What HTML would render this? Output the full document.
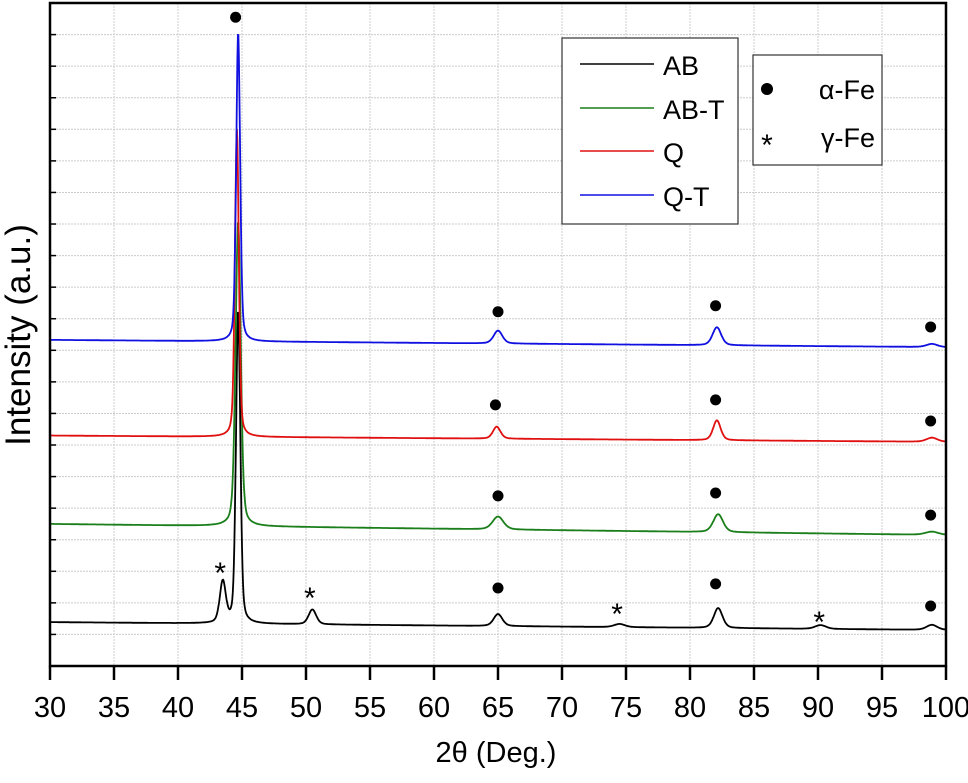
<!DOCTYPE html>
<html><head><meta charset="utf-8"><style>
body{margin:0;background:#fff;}
svg text{font-family:"Liberation Sans",sans-serif;}
</style></head><body>
<svg id="chart" width="968" height="778" xmlns="http://www.w3.org/2000/svg">
<g id="grid"></g>
<g id="series"></g>
<g id="marks"></g>
<rect x="50" y="3" width="896" height="663" fill="none" stroke="#000" stroke-width="2.5"/>
<g id="axes"></g>
<text transform="translate(30,335) rotate(-90)" text-anchor="middle" font-size="35">Intensity (a.u.)</text>
<text x="496" y="762" text-anchor="middle" font-size="29">2θ (Deg.)</text>
<g>
<rect x="562" y="38" width="176" height="186" fill="#fff" stroke="#333" stroke-width="1.2"/>
<line x1="580" y1="64" x2="654" y2="64" stroke="#000" stroke-width="1.5"/><text x="663" y="75" font-size="27">AB</text>
<line x1="580" y1="108" x2="654" y2="108" stroke="#1a7f1a" stroke-width="1.5"/><text x="663" y="119" font-size="27">AB-T</text>
<line x1="580" y1="151" x2="654" y2="151" stroke="#e01010" stroke-width="1.5"/><text x="663" y="162" font-size="27">Q</text>
<line x1="580" y1="195" x2="654" y2="195" stroke="#1010e0" stroke-width="1.5"/><text x="663" y="206" font-size="27">Q-T</text>
</g>
<g>
<rect x="753" y="55" width="129" height="110" fill="#fff" stroke="#333" stroke-width="1.2"/>
<circle cx="767" cy="89" r="6" fill="#000"/><text x="875" y="99" font-size="27" text-anchor="end">α-Fe</text>
<text x="767" y="155" font-size="30" text-anchor="middle">*</text><text x="875" y="147" font-size="27" text-anchor="end">γ-Fe</text>
</g>
</svg>
<script>
const xTicks=[30,35,40,45,50,55,60,65,70,75,80,85,90,95,100];
const seriesNames=["AB","AB-T","Q","Q-T"];
const seriesColors=["#000","#1a7f1a","#e01010","#1010e0"];
const baseStart=[1.39,4.5,7.3,10.33];
const baseEnd=[1.14,4.15,7.1,10.1];
const peakPos=[[43.5,44.7,50.5,65,74.5,82.2,90.2,98.9],[44.7,65,82.2,98.9],[44.6,64.9,82.1,98.9],[44.7,65,82.1,98.9]];
const peakHeight=[[1.3,9.9,0.47,0.38,0.1,0.63,0.12,0.16],[9.65,0.41,0.57,0.1],[9.75,0.38,0.63,0.13],[9.8,0.41,0.57,0.1]];
const peakWidth=[[0.28,0.2,0.35,0.4,0.5,0.4,0.5,0.5],[0.24,0.5,0.45,0.6],[0.18,0.35,0.35,0.5],[0.18,0.4,0.4,0.5]];
const dotX=[44.5,65,82,98.8,64.8,82,98.8,65,82,98.8,65,82,98.8];
const dotY=[20.55,11.22,11.41,10.74,8.27,8.43,7.76,5.39,5.48,4.78,2.47,2.6,1.9];
const starX=[43.3,50.3,74.3,90.1];
const starY=[3.2,2.4,1.9,1.65];
const X=v=>50+(v-30)*896/70, Y=v=>666-v*31.57;
const NS="http://www.w3.org/2000/svg";
function mk(t,p,a){const e=document.createElementNS(NS,t);for(const k in a)e.setAttribute(k,a[k]);p.appendChild(e);return e;}
const grid=document.getElementById('grid');
for(let i=1;i<21;i++){const l=mk('line',grid,{x1:50,x2:946,y1:Y(i),y2:Y(i),stroke:'#ccc','stroke-dasharray':'2,1'});


const t=mk('line',grid,{x1:50,x2:56,y1:Y(i),y2:Y(i),stroke:'#000','stroke-width':1.5});

}
const axes=document.getElementById('axes');
xTicks.forEach(v=>{if(v>30&&v<100){const l=mk('line',grid,{x1:X(v),x2:X(v),y1:3,y2:666,stroke:'#ccc','stroke-dasharray':'2,1'});

}
const t=mk('line',axes,{x1:X(v),x2:X(v),y1:666,y2:680,stroke:'#000','stroke-width':2.5});


const tx=mk('text',axes,{x:X(v),y:717,'text-anchor':'middle','font-size':29});tx.textContent=v;

});
const sg=document.getElementById('series');
for(let s=0;s<4;s++){let d='';for(let x=30;x<=100.001;x+=0.04){let y=baseStart[s]+(baseEnd[s]-baseStart[s])*(x-30)/70;
peakPos[s].forEach((p,i)=>{const w=peakWidth[s][i];const u=(x-p)/w;y+=peakHeight[s][i]*(0.35/(1+u*u)+0.65*Math.exp(-0.693*u*u));});
d+=(d?'L':'M')+X(x).toFixed(1)+','+Y(y).toFixed(1);}
const p=mk('path',sg,{d:d,fill:'none',stroke:seriesColors[s],'stroke-width':1.8});

}
const mg=document.getElementById('marks');
dotX.forEach((x,i)=>{const c=mk('circle',mg,{cx:X(x),cy:Y(dotY[i]),r:5.5,fill:'#000'});

});
starX.forEach((x,i)=>{const t=mk('text',mg,{x:X(x),y:Y(starY[i])+18,'text-anchor':'middle','font-size':30});t.textContent='*';

});
</script>
</body></html>
